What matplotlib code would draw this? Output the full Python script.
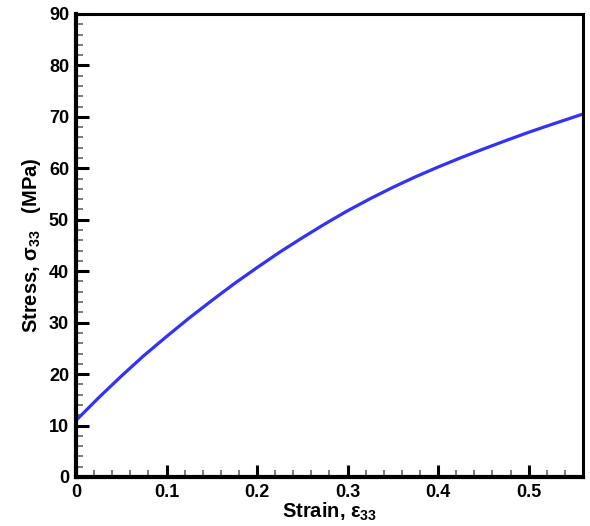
import numpy as np
import matplotlib.pyplot as plt
from matplotlib.ticker import MultipleLocator

plt.rcParams['font.family'] = ['Liberation Sans', 'DejaVu Sans']
plt.rcParams['font.weight'] = 'bold'
plt.rcParams['mathtext.fontset'] = 'custom'
plt.rcParams['mathtext.rm'] = 'Liberation Sans:bold'
plt.rcParams['mathtext.bf'] = 'Liberation Sans:bold'
plt.rcParams['mathtext.it'] = 'Liberation Sans:bold'
plt.rcParams['mathtext.default'] = 'bf'

# Curva tensao-deformacao
deformacao = [0.000, 0.025, 0.050, 0.075, 0.100, 0.125, 0.150, 0.175, 0.200,
              0.225, 0.250, 0.275, 0.300, 0.325, 0.350, 0.375, 0.400, 0.425,
              0.450, 0.475, 0.500, 0.525, 0.560]
tensao = [11.0, 15.4, 19.6, 23.6, 27.3, 30.9, 34.3, 37.6, 40.7,
          43.7, 46.5, 49.2, 51.75, 54.1, 56.3, 58.35, 60.25, 62.05,
          63.75, 65.4, 67.0, 68.5, 70.55]

fig = plt.figure(figsize=(5.9, 5.26), dpi=100)
ax = fig.add_axes([0.1288, 0.0932, 0.8592, 0.8802])

ax.plot(deformacao, tensao, color='#3232fa', linewidth=2.3)

ax.set_xlim(0, 0.56)
ax.set_ylim(0, 90)
ax.xaxis.set_minor_locator(MultipleLocator(0.02))
ax.yaxis.set_major_locator(MultipleLocator(10))
ax.yaxis.set_minor_locator(MultipleLocator(2))
ax.set_xticks([0, 0.1, 0.2, 0.3, 0.4, 0.5])
ax.set_xticklabels(['0', '0.1', '0.2', '0.3', '0.4', '0.5'])

ax.tick_params(which='major', direction='in', length=9, width=2.2,
               labelsize=13, pad=5, top=False, right=False)
ax.tick_params(which='minor', direction='in', length=5, width=1.1,
               color='#555555', top=False, right=False)

for s in ['left', 'bottom']:
    ax.spines[s].set_linewidth(3.0)
for s in ['top', 'right']:
    ax.spines[s].set_linewidth(2.2)

ax.set_xlabel(r'Strain, ε$_{33}$', fontsize=14.5, fontweight='bold', labelpad=0)
ax.set_ylabel(r'Stress, σ$_{33}$   (MPa)', fontsize=14.5, fontweight='bold', labelpad=4)

fig.savefig('out.png', dpi=100)
